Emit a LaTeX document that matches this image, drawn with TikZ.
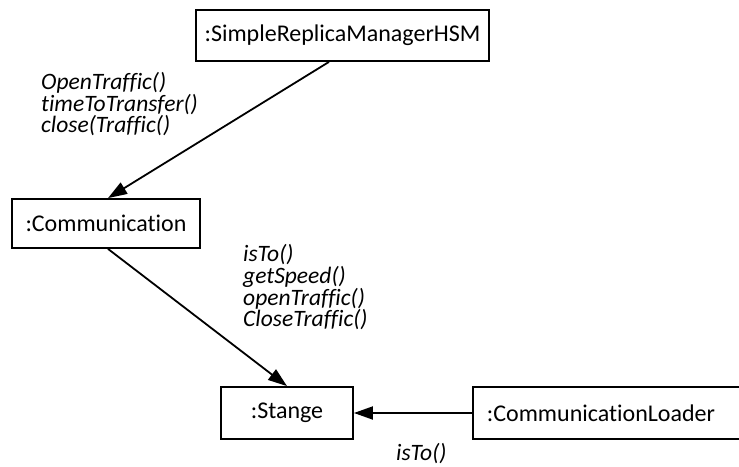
\documentclass[tikz,border=0pt]{standalone}
\usepackage{fontspec}
\setmainfont[Ligatures={NoCommon}]{Carlito}
\usetikzlibrary{arrows.meta}
\begin{document}
\begin{tikzpicture}[x=1bp,y=-1bp,
  obj/.style={draw, line width=1.8bp, rectangle, inner sep=0pt,
    font=\fontsize{24bp}{28bp}\selectfont},
  msg/.style={-{Triangle[length=19bp,width=13bp]}, line width=1.8bp},
  calls/.style={anchor=base west, align=left, inner sep=0pt,
    font=\fontsize{23.5bp}{21.8bp}\selectfont\itshape}]
\useasboundingbox (0,0) rectangle (739,467);
% objects
\node[obj, minimum width=293bp, minimum height=51bp] (hsm) at (342.5,35.5) {:SimpleReplicaManagerHSM};
\node[obj, minimum width=188bp, minimum height=49bp] (comm) at (106,223.5) {:Communication};
\node[obj, minimum width=132bp, minimum height=52bp] (stange) at (287,413) {:Stange};
\node[obj, minimum width=272bp, minimum height=52bp,
  label={[obj, draw=none, xshift=-8bp]center::CommunicationLoader}] (loader) at (609,413) {};
% messages
\draw[msg] ([xshift=-13.5bp]hsm.south) -- ([xshift=2bp]comm.north);
\draw[msg] ([xshift=2bp]comm.south) -- (stange.north);
\draw[msg] (loader.west) -- (stange.east);
% message labels (anchored at the baseline of the last line)
\node[calls] (m1) at (41,133) {OpenTraffic()\\timeToTransfer()\\close(Traffic()};
\node[calls] (m2) at (243,327) {isTo()\\getSpeed()\\openTraffic()\\CloseTraffic()};
\node[calls] (m3) at (396,460) {isTo()};
\end{tikzpicture}
\end{document}
